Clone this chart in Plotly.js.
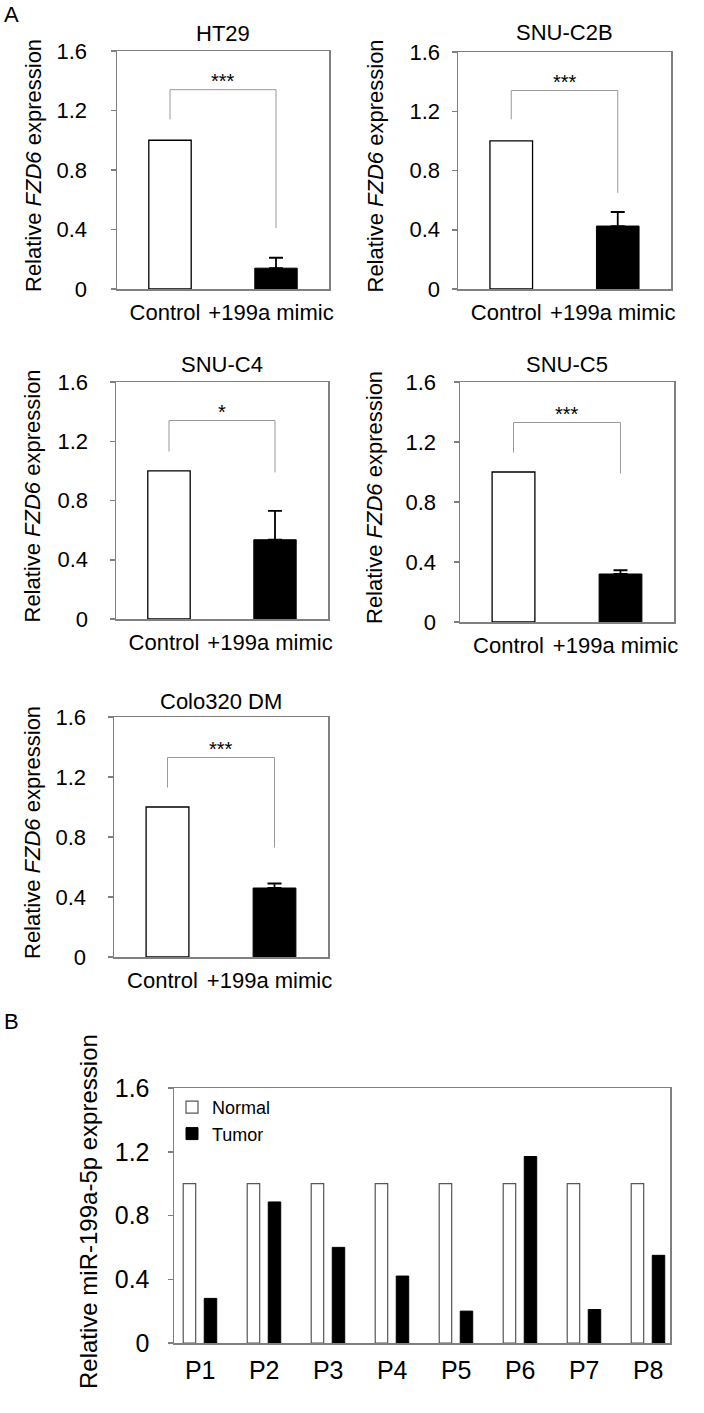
<!DOCTYPE html>
<html><head><meta charset="utf-8">
<script src="https://cdn.plot.ly/plotly-3.0.1.min.js"></script>
<style>html,body{margin:0;padding:0;background:#fff;} #chart{width:704px;height:1413px;}</style>
</head><body><div id="chart"></div>
<script>
// ---------- Data ----------
const cellLines = ['HT29', 'SNU-C2B', 'SNU-C4', 'SNU-C5', 'Colo320 DM'];
const groups = ['Control', '+199a mimic'];
const controlValues = [1, 1, 1, 1, 1];
const mimicValues = [0.14, 0.425, 0.535, 0.32, 0.46];
const mimicErrors = [0.07, 0.095, 0.195, 0.025, 0.03];
const significance = ['***', '***', '*', '***', '***'];
const bracketTop = [1.34, 1.34, 1.34, 1.33, 1.33];
const bracketLeftEnd = [1.14, 1.145, 1.13, 1.13, 1.13];
const bracketRightEnd = [0.41, 0.65, 0.99, 0.99, 0.73];
const starLevel = [1.43, 1.43, 1.43, 1.42, 1.42];

const patients = ['P1', 'P2', 'P3', 'P4', 'P5', 'P6', 'P7', 'P8'];
const normalValues = [1, 1, 1, 1, 1, 1, 1, 1];
const tumorValues = [0.28, 0.885, 0.60, 0.42, 0.20, 1.17, 0.21, 0.55];

const yTickVals = [0, 0.4, 0.8, 1.2, 1.6];
const yTickText = ['0', '0.4', '0.8', '1.2', '1.6'];

// ---------- Layout helpers ----------
const W = 704, H = 1413;
const FONT = 'Arial, "Liberation Sans", sans-serif';
const frameColor = '#808080';
const px = v => v / W;
const py = v => 1 - v / H;

const boxes = [
  {l:117, r:329, t:51,  b:289, titleY:34,  yTitleX:33,  standoff:19},
  {l:458, r:671, t:52,  b:289, titleY:33,  yTitleX:375, standoff:7},
  {l:116, r:328, t:382, b:619, titleY:364, yTitleX:32,  standoff:17},
  {l:460, r:674, t:382, b:622, titleY:365, yTitleX:375, standoff:13},
  {l:114, r:328, t:717, b:957, titleY:701, yTitleX:32,  standoff:17}
];
const boxB = {l:174, r:670, t:1088, b:1343, yTitleX:88, standoff:13};

const data = [];
const layout = {
  width: W, height: H,
  margin: {l:0, r:0, t:0, b:0},
  paper_bgcolor: '#fff', plot_bgcolor: '#fff',
  font: {family: FONT, color: '#000', size: 22},
  barmode: 'overlay',
  showlegend: true,
  legend: {
    x: px(172), y: py(1089), xanchor: 'left', yanchor: 'top',
    font: {size: 18, family: FONT, color: '#000'},
    bgcolor: 'rgba(0,0,0,0)', borderwidth: 0, tracegroupgap: 0
  },
  annotations: [],
  shapes: []
};

function yAxisCfg(b, standoff, size) {
  return {
    domain: [py(b.b), py(b.t)],
    range: [0, 1.6],
    tickvals: yTickVals, ticktext: yTickText,
    ticks: 'outside', ticklen: 5, tickwidth: 1.5, tickcolor: frameColor,
    showline: true, mirror: true, linecolor: frameColor, linewidth: 1.5,
    showgrid: false, zeroline: false, fixedrange: true,
    tickfont: {size: size, family: FONT, color: '#000'},
    ticklabelstandoff: standoff
  };
}

boxes.forEach((b, i) => {
  const n = i + 1;
  const xa = 'x' + n, ya = 'y' + n;
  data.push({
    type: 'bar', x: [groups[0]], y: [controlValues[i]], xaxis: xa, yaxis: ya,
    width: 0.4, offset: -0.2,
    marker: {color: '#ffffff', line: {color: '#000', width: 1.3}},
    showlegend: false, hoverinfo: 'skip'
  });
  data.push({
    type: 'bar', x: [groups[1]], y: [mimicValues[i]], xaxis: xa, yaxis: ya,
    width: 0.4, offset: -0.2,
    marker: {color: '#000000', line: {color: '#000', width: 1}},
    error_y: {type: 'data', symmetric: false, array: [mimicErrors[i]], arrayminus: [0],
              color: '#000', thickness: 1.8, width: 7},
    showlegend: false, hoverinfo: 'skip'
  });
  data.push({
    type: 'scatter', mode: 'lines',
    x: [groups[0], groups[0], groups[1], groups[1]],
    y: [bracketLeftEnd[i], bracketTop[i], bracketTop[i], bracketRightEnd[i]],
    xaxis: xa, yaxis: ya,
    line: {color: '#999999', width: 1},
    showlegend: false, hoverinfo: 'skip'
  });
  layout['xaxis' + n] = {
    domain: [px(b.l), px(b.r)], anchor: ya,
    type: 'category', categoryorder: 'array', categoryarray: groups,
    range: [-0.5, 1.5],
    showline: true, mirror: true, linecolor: frameColor, linewidth: 1.5,
    ticks: '', showgrid: false, zeroline: false, fixedrange: true,
    tickfont: {size: 22, family: FONT, color: '#000'},
    ticklabelstandoff: 3, ticklabelshift: -5
  };
  layout['yaxis' + n] = Object.assign(yAxisCfg(b, b.standoff, 22), {anchor: xa});
  // subplot title
  layout.annotations.push({
    text: cellLines[i], xref: 'paper', yref: 'paper',
    x: px((b.l + b.r) / 2), y: py(b.titleY), xanchor: 'center', yanchor: 'middle',
    showarrow: false, font: {size: 22, family: FONT, color: '#000'}
  });
  // y title
  layout.annotations.push({
    text: 'Relative <i>FZD6</i> expression', xref: 'paper', yref: 'paper',
    x: px(b.yTitleX), y: py((b.t + b.b) / 2 - 4), xanchor: 'center', yanchor: 'middle',
    textangle: -90, showarrow: false, font: {size: 22, family: FONT, color: '#000'}
  });
  // significance stars
  layout.annotations.push({
    text: significance[i], xref: xa, yref: ya,
    x: 0.5, y: starLevel[i], xanchor: 'center', yanchor: 'middle', yshift: -5,
    showarrow: false, font: {size: 20, family: FONT, color: '#000'}
  });
});

// Panel B
data.push({
  type: 'bar', name: 'Normal', x: patients, y: normalValues, xaxis: 'x6', yaxis: 'y6',
  width: 0.195, offset: -0.266,
  marker: {color: '#ffffff', line: {color: '#555555', width: 1.2}},
  hoverinfo: 'skip'
});
data.push({
  type: 'bar', name: 'Tumor', x: patients, y: tumorValues, xaxis: 'x6', yaxis: 'y6',
  width: 0.195, offset: 0.0625,
  marker: {color: '#000000', line: {color: '#000', width: 1}},
  hoverinfo: 'skip'
});
layout.xaxis6 = {
  domain: [px(boxB.l), px(boxB.r)], anchor: 'y6',
  type: 'category', categoryorder: 'array', categoryarray: patients,
  range: [-0.41, 7.34],
  showline: true, mirror: true, linecolor: frameColor, linewidth: 1.5,
  ticks: '', showgrid: false, zeroline: false, fixedrange: true,
  tickfont: {size: 25, family: FONT, color: '#000'},
  ticklabelstandoff: 4
};
layout.yaxis6 = Object.assign(yAxisCfg(boxB, boxB.standoff, 25), {anchor: 'x6'});
layout.annotations.push({
  text: 'Relative miR-199a-5p expression', xref: 'paper', yref: 'paper',
  x: px(boxB.yTitleX), y: py(1212), xanchor: 'center', yanchor: 'middle',
  textangle: -90, showarrow: false, font: {size: 24, family: FONT, color: '#000'}
});

// Panel letters
layout.annotations.push({
  text: 'A', xref: 'paper', yref: 'paper', x: px(2), y: py(15),
  xanchor: 'left', yanchor: 'middle', showarrow: false,
  font: {size: 22, family: FONT, color: '#000'}
});
layout.annotations.push({
  text: 'B', xref: 'paper', yref: 'paper', x: px(2), y: py(1021),
  xanchor: 'left', yanchor: 'middle', showarrow: false,
  font: {size: 22, family: FONT, color: '#000'}
});

Plotly.newPlot('chart', data, layout, {staticPlot: true, displayModeBar: false});
</script>
</body></html>
